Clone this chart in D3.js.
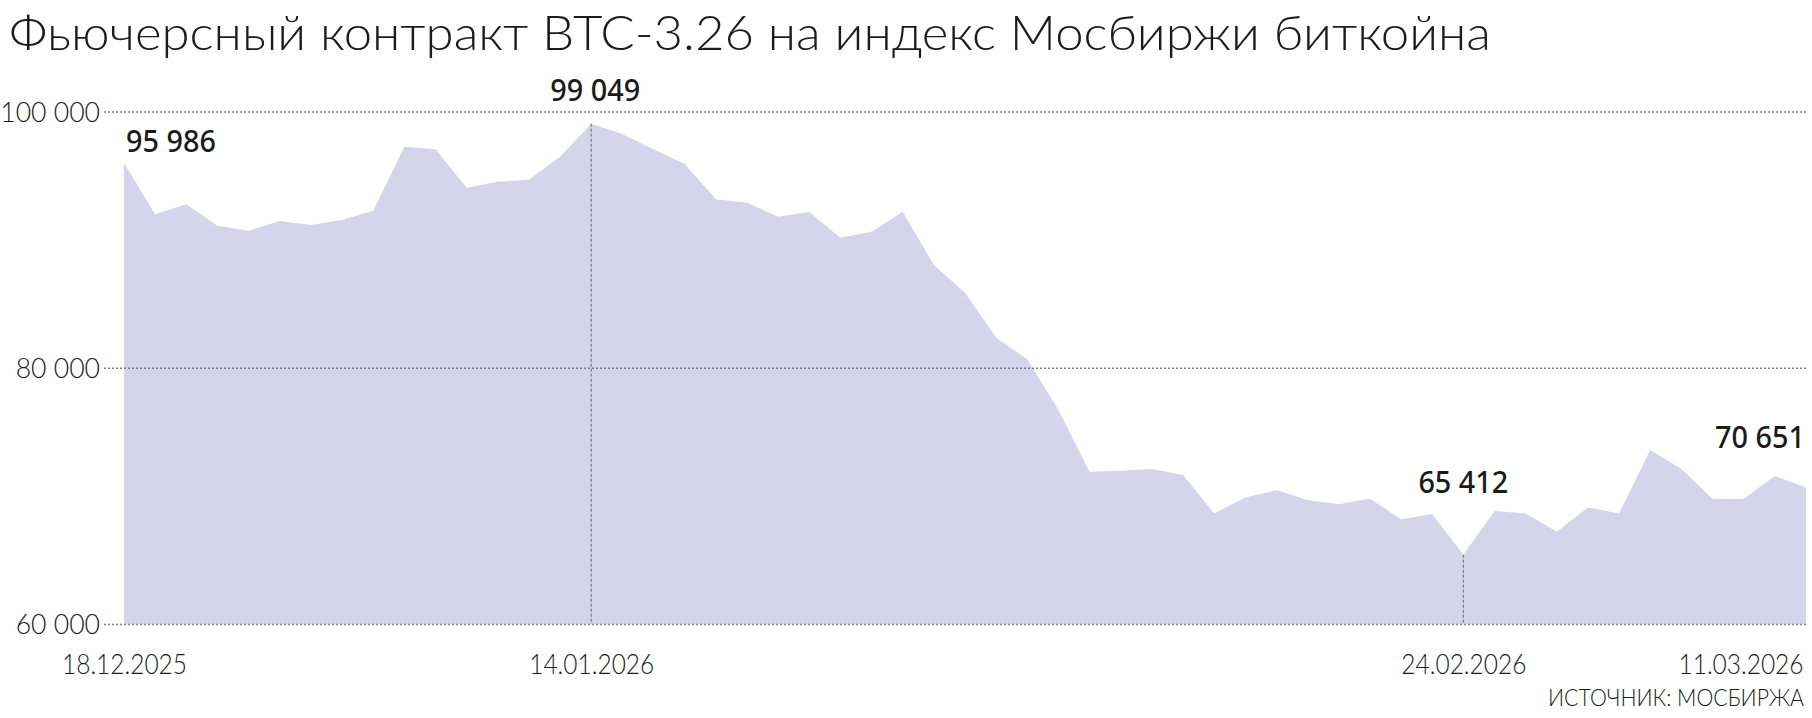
<!DOCTYPE html>
<html lang="ru">
<head>
<meta charset="UTF-8">
<title>Фьючерсный контракт BTC-3.26</title>
<script src="https://cdn.jsdelivr.net/npm/d3@7"></script>
<style>
  html, body { margin: 0; padding: 0; background: #fff; }
  svg { display: block; font-family: Lato, "Noto Sans", sans-serif; }
</style>
</head>
<body>
<svg id="chart" width="1812" height="718"></svg>
<script>
// данные
const titleText = "Фьючерсный контракт BTC-3.26 на индекс Мосбиржи биткойна";
const sourceText = "ИСТОЧНИК: МОСБИРЖА";

const prices = [
  95986, 91980, 92760, 91090, 90700, 91450, 91140, 91530, 92260, 97250,
  97050, 94050, 94520, 94680, 96470, 99049, 98240, 97050, 95900, 93150,
  92880, 91790, 92160, 90150, 90620, 92180, 88020, 85860, 82370, 80660,
  76700, 71880, 71960, 72090, 71620, 68630, 69880, 70450, 69670, 69340,
  69800, 68170, 68580, 65412, 68810, 68630, 67200, 69100, 68630, 73580,
  72090, 69770, 69750, 71550, 70651
];

const dateTicks = [0, 15, 43, 54];
const dateLabels = ["18.12.2025", "14.01.2026", "24.02.2026", "11.03.2026"];
const yTicks = [60000, 80000, 100000];
const markedPoints = [0, 15, 43, 54];
const guideLines = [15, 43];

// раскладка
const W = 1812, H = 718;
const plotLeft = 124, plotRight = 1806;
const gridLeft = 104, gridRight = 1808;
const yTop = 111.5, yBottom = 624;
const ink = "#1b1b1b";
const lightFont = "Lato, 'Noto Sans', sans-serif";
const boldFont = "'Noto Sans', 'Open Sans', sans-serif";
const labelPlacement = [
  { anchor: "start",  dx: 2, dy: -11 },
  { anchor: "middle", dx: 4, dy: -23 },
  { anchor: "middle", dx: 0, dy: -62 },
  { anchor: "end",    dx: -1, dy: -40 }
];

const ru = d3.formatLocale({ decimal: ",", thousands: " ", grouping: [3], currency: ["", ""] });
const fmt = ru.format(",d");

const x = d3.scaleLinear().domain([0, prices.length - 1]).range([plotLeft, plotRight]);
const y = d3.scaleLinear().domain([60000, 100000]).range([yBottom, yTop]);

const svg = d3.select("#chart");

// сжимает текст по горизонтали
function squeeze(sel, k) {
  sel.each(function () {
    const w = this.getComputedTextLength();
    d3.select(this).attr("textLength", w * k).attr("lengthAdjust", "spacingAndGlyphs");
  });
}

// заголовок
svg.append("text")
  .attr("x", 9).attr("y", 50)
  .attr("font-family", lightFont)
  .attr("font-size", 48).attr("font-weight", 300)
  .attr("fill", ink)
  .attr("textLength", 1482).attr("lengthAdjust", "spacingAndGlyphs")
  .text(titleText);

// область
const area = d3.area()
  .x((d, i) => x(i))
  .y0(y(60000))
  .y1(d => y(d));

svg.append("path")
  .datum(prices)
  .attr("d", area)
  .attr("fill", "#d5d4ea");

// вертикальные линии
svg.append("g")
  .selectAll("line")
  .data(guideLines)
  .join("line")
  .attr("x1", i => x(i)).attr("x2", i => x(i))
  .attr("y1", i => y(prices[i])).attr("y2", y(60000))
  .attr("stroke", "#7a7a7a")
  .attr("stroke-width", 1.2)
  .attr("stroke-dasharray", "3,2");

// ось Y с сеткой
const yAxis = svg.append("g")
  .attr("transform", `translate(${gridLeft},0)`)
  .call(d3.axisLeft(y)
    .tickValues(yTicks)
    .tickSize(-(gridRight - gridLeft))
    .tickPadding(4)
    .tickFormat(fmt));
yAxis.select(".domain").remove();
yAxis.selectAll(".tick line")
  .attr("stroke", "#7d7d7d")
  .attr("stroke-width", 1.3)
  .attr("stroke-dasharray", "2,2");
yAxis.selectAll(".tick text")
  .attr("font-family", lightFont)
  .attr("font-size", 28).attr("font-weight", 300)
  .attr("fill", ink)
  .attr("dy", "0.35em")
  .call(squeeze, 0.95);

// ось X
const xAxis = svg.append("g")
  .attr("transform", `translate(0,${yBottom})`)
  .call(d3.axisBottom(x)
    .tickValues(dateTicks)
    .tickSize(0)
    .tickFormat((d, i) => dateLabels[i]));
xAxis.select(".domain").remove();
xAxis.selectAll(".tick text")
  .attr("font-family", lightFont)
  .attr("font-size", 28).attr("font-weight", 300)
  .attr("fill", ink)
  .attr("y", 50).attr("dy", 0)
  .attr("textLength", 125).attr("lengthAdjust", "spacingAndGlyphs");
xAxis.selectAll(".tick text")
  .filter((d, i) => i === dateTicks.length - 1)
  .attr("text-anchor", "end")
  .attr("x", -3);

// подписи значений
svg.append("g")
  .selectAll("text")
  .data(markedPoints)
  .join("text")
  .attr("x", (d, i) => x(d) + labelPlacement[i].dx)
  .attr("y", (d, i) => y(prices[d]) + labelPlacement[i].dy)
  .attr("text-anchor", (d, i) => labelPlacement[i].anchor)
  .attr("font-family", boldFont)
  .attr("font-size", 31).attr("font-weight", 550)
  .attr("fill", ink)
  .text(d => fmt(prices[d]))
  .call(squeeze, 0.93);

// источник
svg.append("text")
  .attr("x", plotRight - 2).attr("y", 706)
  .attr("text-anchor", "end")
  .attr("font-family", lightFont)
  .attr("font-size", 23).attr("font-weight", 300)
  .attr("fill", ink)
  .attr("textLength", 256).attr("lengthAdjust", "spacingAndGlyphs")
  .text(sourceText);
</script>
</body>
</html>
